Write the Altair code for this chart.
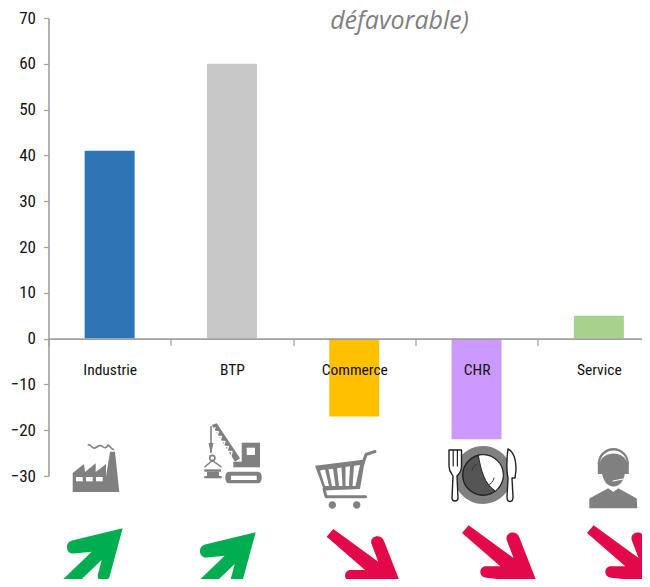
import re
import altair as alt
import pandas as pd

CATEGORIES = ["Industrie", "BTP", "Commerce", "CHR", "Service"]
VALUES = [41, 60, -17, -22, 5]
BAR_COLORS = ["#2e75b6", "#c8c8c8", "#ffc000", "#cc99ff", "#a9d18e"]
Y_TICKS = [70, 60, 50, 40, 30, 20, 10, 0, -10, -20, -30]
HEADING = "défavorable)"
ICON_BASE = -30  # value on the axis that icons and arrows hang from

GREY = "#808080"
WHITE = "#ffffff"
GREEN = "#00ad50"
RED = "#e3084a"
AXIS = "#a0a0a0"
FONT = "Roboto Condensed, Roboto"

LEFT, TOP, BAND_SPAN, PLOT_H = 48.5, 18.0, 611.5, 458.0
CENTERS = {c: LEFT + BAND_SPAN * (i + 0.5) / 5 for i, c in enumerate(CATEGORIES)}


def rel(path, cat, dx=0.0, dy=0.0):
    """Move a path drawn in picture pixels so it hangs from its category's anchor."""
    ox, oy = CENTERS[cat], TOP + PLOT_H
    nums = iter(range(10**6))
    def sub(m):
        v = float(m.group(0))
        return f"{v + dx - ox:.2f}" if next(nums) % 2 == 0 else f"{v + dy - oy:.2f}"
    return re.sub(r"-?\d+\.?\d*", sub, path)


def rect(x0, y0, x1, y1):
    return f"M{x0} {y0}L{x1} {y0}L{x1} {y1}L{x0} {y1}Z"


def poly(*pts):
    return "M" + "L".join(f"{x} {y}" for x, y in pts) + "Z"


def line(*pts):
    return "M" + "L".join(f"{x} {y}" for x, y in pts)


def circ(cx, cy, r):
    k = 0.5523 * r
    return (f"M{cx - r} {cy}C{cx - r} {cy - k} {cx - k} {cy - r} {cx} {cy - r}"
            f"C{cx + k} {cy - r} {cx + r} {cy - k} {cx + r} {cy}"
            f"C{cx + r} {cy + k} {cx + k} {cy + r} {cx} {cy + r}"
            f"C{cx - k} {cy + r} {cx - r} {cy + k} {cx - r} {cy}Z")


UP = ("M122.7 528.3L72 540.5C64 542.5 66 554.5 74 553.5L91.7 551.7L55 587L64 596"
      "L101.7 560L98 574C96 583 108 585 110 575Z")
DOWN = ("M402 587L384 541C381 533 369 536 371.5 544L378.3 561.7L333.3 529L326.7 536.7"
        "L365 570L351 570C343 570 343 581 351 581.5Z")

# (category, path, fill, stroke, stroke width)
PARTS = [
    # factory
    ("Industrie", poly((72.7, 492), (72.7, 473), (84, 464), (85, 472), (95.7, 463.3), (95.7, 472),
                       (106, 464), (106, 476.7), (110, 451.7), (115, 451.7), (119.3, 492)), GREY, None, 0),
    ("Industrie", rect(76, 477, 82.7, 481.3), WHITE, None, 0),
    ("Industrie", rect(86, 477, 92.7, 481.3), WHITE, None, 0),
    ("Industrie", rect(96, 477, 102.7, 481.3), WHITE, None, 0),
    ("Industrie", "M88.3 445C91 444 92 449 95 448C98 447 99 444 102 446C105 449 106 448 108 445"
                  "C110 446 111 449 113.5 449.5", None, GREY, 1.6),
    # crane
    ("BTP", poly((211.7, 425), (216.7, 423.3), (240, 458.3), (235, 461.7)), GREY, None, 0),
    ("BTP", line((215, 427.5), (213.8, 431), (218.5, 432), (216.5, 436.5), (221.5, 436.5), (219.8, 441.5),
                 (225, 441.5), (223.2, 446.5), (228.5, 446.5), (226.8, 451.5), (232, 451.5), (231, 456)), None, WHITE, 1.3),
    ("BTP", rect(241.7, 442.7, 260, 463.3), GREY, None, 0),
    ("BTP", rect(246.7, 447.7, 255, 455), WHITE, None, 0),
    ("BTP", rect(233.3, 461.7, 260, 467.3), GREY, None, 0),
    ("BTP", "M229 471.7L258 471.7C263 471.7 263 483.3 258 483.3L229 483.3C224 483.3 224 471.7 229 471.7Z", GREY, None, 0),
    ("BTP", rect(231, 475.7, 256.7, 480), WHITE, None, 0),
    ("BTP", line((211, 426.7), (211, 452)), None, GREY, 1.6),
    ("BTP", poly((208.5, 443), (213.5, 443), (211, 454)), GREY, None, 0),
    ("BTP", circ(212.3, 458, 2.6), None, GREY, 1.6),
    ("BTP", line((205, 466.7), (212.3, 460.5), (221, 466.7)), None, GREY, 1.5),
    ("BTP", rect(204.3, 469.3, 221, 471.7), GREY, None, 0),
    ("BTP", rect(207, 471.7, 219, 476), GREY, None, 0),
    ("BTP", rect(204.3, 476, 221.7, 478.3), GREY, None, 0),
    # cart
    ("Commerce", poly((315, 465.7), (365, 459.5), (360, 489), (324, 490.5)), GREY, None, 0),
    ("Commerce", poly((320, 470.5), (325, 469.5), (329, 486), (325, 486)), WHITE, None, 0),
    ("Commerce", poly((328.5, 469.2), (333, 468.7), (335.5, 486), (332, 486)), WHITE, None, 0),
    ("Commerce", poly((337, 468.2), (341.5, 467.5), (342.5, 486), (339, 486)), WHITE, None, 0),
    ("Commerce", poly((345.5, 467), (350, 466.3), (349, 486), (345.5, 486)), WHITE, None, 0),
    ("Commerce", poly((354, 465.8), (360, 465), (355.5, 486), (352.5, 486)), WHITE, None, 0),
    ("Commerce", line((362.5, 465), (366, 454.5), (375, 451.5)), None, GREY, 3),
    ("Commerce", line((324, 489), (326, 496.7), (365.5, 496.7)), None, GREY, 3),
    ("Commerce", circ(332.3, 505, 3.7), GREY, None, 0),
    ("Commerce", circ(356.7, 505, 3.7), GREY, None, 0),
    # plate and cutlery
    ("CHR", circ(483, 475, 29), GREY, None, 0),
    ("CHR", circ(483, 475, 20.3), "#555555", "#222222", 1.4),
    ("CHR", "M478.3 455.3C481 470 484 484 495.5 491C500 487 503.3 481 503.3 475C503.3 463 493 454.7 483 454.7"
            "C481.3 454.7 479.8 455 478.3 455.3Z", WHITE, "#222222", 1),
    ("CHR", "M472 470C473 467 475 465 477 464", None, "#333333", 1),
    ("CHR", "M488 485C491 484 493 482 494 478", None, "#333333", 1),
    ("CHR", "M449 450L449 466C449 472 452 474 453 476L452 498C452 502 458 502 458 498L457 476"
            "C459 474 461.5 472 461.5 466L461.5 450Z", WHITE, "#222222", 1.4),
    ("CHR", line((453.2, 450), (453.2, 466)), None, "#222222", 1.2),
    ("CHR", line((457.4, 450), (457.4, 466)), None, "#222222", 1.2),
    ("CHR", "M508 449C514 452 516 462 516 470L515 478L512 478L513 497C513 503 507 503 507 497L508 478"
            "C506 470 507 455 508 449Z", WHITE, "#222222", 1.4),
    # call-centre agent
    ("Service", circ(613.3, 463.5, 15.5), GREY, None, 0),
    ("Service", rect(597.8, 462, 628.8, 474), GREY, None, 0),
    ("Service", "M600 464C601 446 626 446 627 464C626 450 601 450 600 464Z", WHITE, None, 0),
    ("Service", "M602 470C602 492 625 492 625 470Z", GREY, None, 0),
    ("Service", poly((589.3, 508.3), (589.3, 498.5), (608.3, 488.3), (613.3, 492), (618.3, 488.3),
                     (636.7, 498.5), (637.3, 508.3)), GREY, None, 0),
    ("Service", line((613, 481), (623, 479)), None, WHITE, 1.2),
]

ARROWS = [
    ("Industrie", UP, 0.0, 0.0, GREEN),
    ("BTP", UP, 133.0, 4.0, GREEN),
    ("Commerce", DOWN, 0.0, 0.0, RED),
    ("CHR", DOWN, 135.3, -3.7, RED),
    ("Service", DOWN, 260.3, -3.7, RED),
]

bars = pd.DataFrame({"cat": CATEGORIES, "value": VALUES, "color": BAR_COLORS})

x_scale = alt.Scale(type="band", domain=CATEGORIES, range=[0, BAND_SPAN],
                    paddingInner=0, paddingOuter=0)
y_scale = alt.Scale(domain=[-30, 70], nice=False, zero=False)

bar_layer = alt.Chart(bars).mark_bar(size=50, clip=False).encode(
    x=alt.X("cat:N", scale=x_scale, sort=None, title=None,
            axis=alt.Axis(orient="bottom", offset=-137.4, labelAngle=0, tickBand="extent",
                          domainColor=AXIS, domainWidth=1.6, tickColor=AXIS, tickWidth=1.2,
                          tickSize=7, labelFont=FONT, labelFontSize=15.5, labelColor="#111111",
                          labelPadding=17, labelOverlap=False, zindex=1, grid=False)),
    y=alt.Y("value:Q", scale=y_scale, title=None,
            axis=alt.Axis(values=Y_TICKS, domainColor=AXIS, domainWidth=1.6, tickColor=AXIS,
                          tickWidth=1.2, tickSize=5, labelFont=FONT, labelFontSize=17,
                          labelColor="#111111", labelPadding=8, grid=False, zindex=1)),
    y2=alt.datum(0),
    color=alt.Color("color:N", scale=None),
)

layers = [bar_layer]


def glyph(cat, path, fill, stroke, width, strokeCap="round"):
    kw = {"shape": path, "size": 4, "opacity": 1, "clip": False}
    if fill:
        kw.update(filled=True, fill=fill)
    else:
        kw.update(filled=False, fill="transparent")
    if stroke:
        kw.update(stroke=stroke, strokeWidth=width, strokeCap=strokeCap, strokeJoin="round")
    else:
        kw.update(strokeWidth=0)
    row = pd.DataFrame({"cat": [cat], "anchor": [ICON_BASE]})
    return alt.Chart(row).mark_point(**kw).encode(
        x=alt.X("cat:N", scale=x_scale, sort=None, title=None),
        y=alt.Y("anchor:Q", scale=y_scale, title=None),
    )


for cat, path, fill, stroke, width in PARTS:
    layers.append(glyph(cat, rel(path, cat), fill, stroke, width))
for cat, path, dx, dy, color in ARROWS:
    layers.append(glyph(cat, rel(path, cat, dx, dy), color, None, 0))

heading = alt.Chart(pd.DataFrame({"t": [HEADING]})).mark_text(
    font="Open Sans", fontSize=25, fontStyle="italic", fontWeight="normal", color="#7f7f7f",
    align="center", baseline="alphabetic", clip=False,
).encode(text="t:N", x=alt.value(351), y=alt.value(11))
layers.append(heading)

chart = alt.layer(*layers).properties(
    width=593.5, height=PLOT_H,
    autosize=alt.AutoSizeParams(type="none"),
    padding={"left": 40.5, "top": 10, "right": 0, "bottom": 103},
).configure_view(stroke=None)

chart.save("out.html", embed_options={"renderer": "svg", "actions": False})
